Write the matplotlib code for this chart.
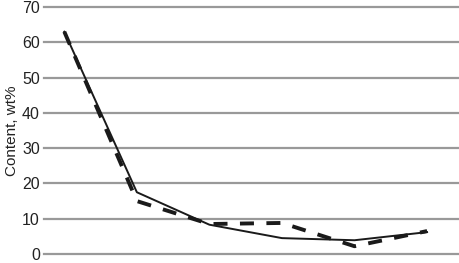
import numpy as np
import matplotlib.pyplot as plt

plt.rcParams['font.family'] = ['Liberation Sans', 'DejaVu Sans']

x = [0, 1, 2, 3, 4, 5]
solid_vals = [63, 17.5, 8.3, 4.5, 3.9, 6.2]
dashed_vals = [63, 15, 8.5, 8.8, 2.2, 6.5]
yticks = [0, 10, 20, 30, 40, 50, 60, 70]

fig = plt.figure(figsize=(4.59, 2.63), dpi=100)
# keep the top and bottom tick labels inside the picture
ax = fig.add_axes([44 / 459, 9 / 263, 1 - 44 / 459, 247 / 263])

for t in yticks:
    ax.axhline(t, color='#999999', lw=1.6, zorder=1, clip_on=False)

ax.plot(x, solid_vals, color='#1a1a1a', lw=1.4, zorder=3, clip_on=False)
ax.plot(x, dashed_vals, color='#1a1a1a', lw=2.8, ls=(0, (3.6, 3.2)), zorder=3, clip_on=False)

ax.set_xlim(-0.28, 5.44)
ax.set_ylim(0, 70)
ax.set_yticks(yticks)
ax.set_xticks([])
ax.tick_params(axis='y', length=0, labelsize=11.5, pad=3, labelcolor='#222222')
for s in ax.spines.values():
    s.set_visible(False)
ax.set_ylabel('Content, wt%', fontsize=11, color='#222222', labelpad=2)

fig.savefig('out.png', dpi=100)
